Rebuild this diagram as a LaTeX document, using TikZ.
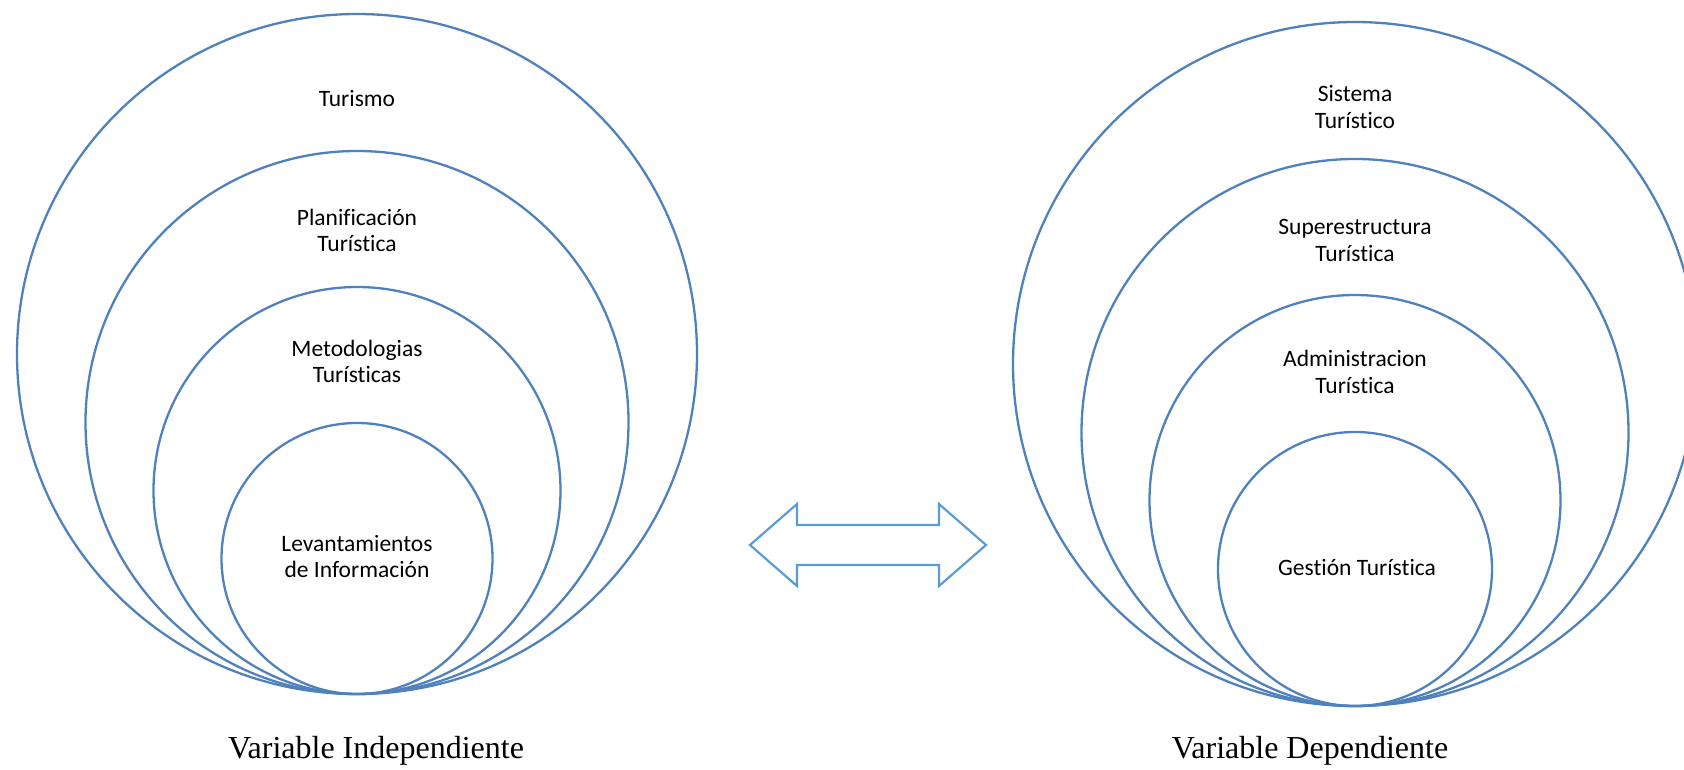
\documentclass[tikz,border=0pt]{standalone}
\usepackage{fontspec}
\setmainfont{Liberation Serif}
\newfontfamily\calfont[Ligatures={NoCommon}]{Carlito}
\definecolor{ringblue}{RGB}{79,129,189}
\definecolor{arrowblue}{RGB}{91,155,213}
\begin{document}
\begin{tikzpicture}[x=1pt,y=-1pt,
  ring/.style={draw=ringblue,line width=2.3pt},
  lbl/.style={font=\calfont\fontsize{23.5}{26.5}\selectfont,align=center,anchor=base,inner sep=0pt},
  captxt/.style={font=\fontsize{32}{36}\selectfont,anchor=base,inner sep=0pt}]
\useasboundingbox (0,0) rectangle (1684,769);
% left set
\coordinate (L1) at (357,354);
\coordinate (L2) at (357,422.5);
\coordinate (L3) at (357,490.5);
\coordinate (L4) at (357,558.5);
\draw[ring] (L1) circle (340);
\draw[ring] (L2) circle (271.5);
\draw[ring] (L3) circle (203.5);
\draw[ring] (L4) circle (135.5);
% right set
\coordinate (R1) at (1355,364);
\coordinate (R2) at (1355,432.5);
\coordinate (R3) at (1355,500.5);
\coordinate (R4) at (1355,569);
\begin{scope}
\clip (0,0) rectangle (1684,769);
\draw[ring] (R1) circle (342);
\end{scope}
\draw[ring] (R2) circle (273.5);
\draw[ring] (R3) circle (205.5);
\draw[ring] (R4) circle (137);
% labels left (anchor = baseline of last line)
\node[lbl] (t1) at (357,106) {Turismo};
\node[lbl] (t2) at (357,251.5) {Planificación\\Turística};
\node[lbl] (t3) at (357,382.5) {Metodologias\\Turísticas};
\node[lbl] (t4) at (357,577.5) {Levantamientos\\de Información};
% labels right
\node[lbl] (s1) at (1355,128.3) {Sistema\\Turístico};
\node[lbl] (s2) at (1355,261) {Superestructura\\Turística};
\node[lbl] (s3) at (1355,393) {Administracion\\Turística};
\node[lbl] (s4) at (1357,575) {Gestión Turística};
% captions
\node[captxt] (vi) at (376,758) {Variable Independiente};
\node[captxt] (vd) at (1310,758) {Variable Dependiente};
% double arrow
\draw[draw=arrowblue,line width=2.2pt,line join=miter]
  (750,545) -- (797,504) -- (797,525) -- (939,525) -- (939,504) -- (986,545)
  -- (939,586) -- (939,565) -- (797,565) -- (797,586) -- cycle;
\end{tikzpicture}
\end{document}
